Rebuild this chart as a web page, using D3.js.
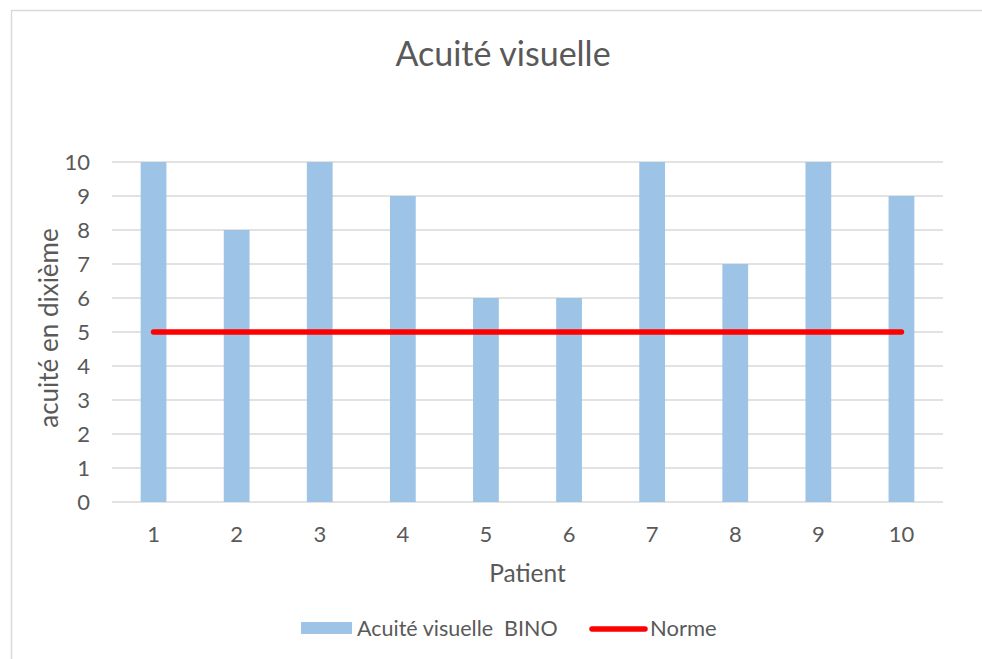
<!DOCTYPE html>
<html>
<head>
<meta charset="utf-8">
<script src="https://cdn.jsdelivr.net/npm/d3@7"></script>
<style>
  html, body { margin: 0; padding: 0; background: #ffffff; overflow: hidden; }
  svg { display: block; }
  text { font-family: Lato, "Open Sans", sans-serif; fill: #595959; }
</style>
</head>
<body>
<svg id="chart" width="982" height="659"></svg>
<script>
// Patients and their binocular visual acuity (in tenths)
const patients = ["1", "2", "3", "4", "5", "6", "7", "8", "9", "10"];
const acuiteBino = [10, 8, 10, 9, 6, 6, 10, 7, 10, 9];
const norme = [5, 5, 5, 5, 5, 5, 5, 5, 5, 5];
const yTicks = [0, 1, 2, 3, 4, 5, 6, 7, 8, 9, 10];

const chartTitle = "Acuité visuelle";
const xTitle = "Patient";
const yTitle = "acuité en dixième";
const seriesNames = ["Acuité visuelle  BINO", "Norme"];

const W = 982, H = 659;
const plot = { left: 112, right: 943, top: 162, bottom: 502 };

const barColor = "#9DC3E6";
const lineColor = "#FF0000";
const gridColor = "#D9D9D9";

const svg = d3.select("#chart");

// chart area frame (top and left edges fall inside the view)
svg.append("path")
  .attr("d", `M11.5,${H} V10.5 H${W}`)
  .attr("fill", "none")
  .attr("stroke", gridColor).attr("stroke-width", 1.5);

const x = d3.scaleBand()
  .domain(patients)
  .range([plot.left, plot.right])
  .paddingInner(0.69).paddingOuter(0.345);

const y = d3.scaleLinear()
  .domain([0, 10])
  .range([plot.bottom, plot.top]);

// horizontal gridlines
svg.append("g")
  .selectAll("line")
  .data(yTicks)
  .join("line")
  .attr("x1", plot.left).attr("x2", plot.right)
  .attr("y1", d => y(d)).attr("y2", d => y(d))
  .attr("stroke", gridColor).attr("stroke-width", 1.5);

// y-axis tick labels
const yAxis = d3.axisLeft(y).tickValues(yTicks).tickSize(0).tickPadding(0);
svg.append("g")
  .attr("transform", `translate(${plot.left - 22},0)`)
  .call(yAxis)
  .call(g => g.select(".domain").remove())
  .selectAll("text")
  .style("font-size", "22px")
  .attr("fill", "#595959");

// bars
svg.append("g")
  .selectAll("rect")
  .data(acuiteBino)
  .join("rect")
  .attr("x", (d, i) => x(patients[i]))
  .attr("width", x.bandwidth())
  .attr("y", d => y(d))
  .attr("height", d => y(0) - y(d))
  .attr("fill", barColor);

// x-axis tick labels
const xAxis = d3.axisBottom(x).tickSize(0).tickPadding(0);
svg.append("g")
  .attr("transform", `translate(0,${plot.bottom + 24})`)
  .call(xAxis)
  .call(g => g.select(".domain").remove())
  .selectAll("text")
  .style("font-size", "22px")
  .attr("fill", "#595959");

// reference line (norme)
const line = d3.line()
  .x((d, i) => x(patients[i]) + x.bandwidth() / 2)
  .y(d => y(d));
svg.append("path")
  .datum(norme)
  .attr("d", line)
  .attr("fill", "none")
  .attr("stroke", lineColor)
  .attr("stroke-width", 5.5)
  .attr("stroke-linecap", "round");

// titles
svg.append("text")
  .attr("x", 503).attr("y", 66)
  .attr("text-anchor", "middle")
  .style("font-size", "34px")
  .text(chartTitle);

svg.append("text")
  .attr("x", (plot.left + plot.right) / 2).attr("y", 582)
  .attr("text-anchor", "middle")
  .style("font-size", "24.5px")
  .text(xTitle);

svg.append("text")
  .attr("transform", `translate(58,328) rotate(-90)`)
  .attr("text-anchor", "middle")
  .style("font-size", "26px")
  .text(yTitle);

// legend
const legend = svg.append("g");
legend.append("rect")
  .attr("x", 301).attr("y", 622)
  .attr("width", 51).attr("height", 12)
  .attr("fill", barColor);
legend.append("text")
  .attr("x", 357).attr("y", 636)
  .style("font-size", "21.5px")
  .style("white-space", "pre")
  .attr("xml:space", "preserve")
  .text(seriesNames[0]);
legend.append("line")
  .attr("x1", 592).attr("x2", 645)
  .attr("y1", 629).attr("y2", 629)
  .attr("stroke", lineColor).attr("stroke-width", 5.5)
  .attr("stroke-linecap", "round");
legend.append("text")
  .attr("x", 650).attr("y", 636)
  .style("font-size", "22px")
  .text(seriesNames[1]);
</script>
</body>
</html>
